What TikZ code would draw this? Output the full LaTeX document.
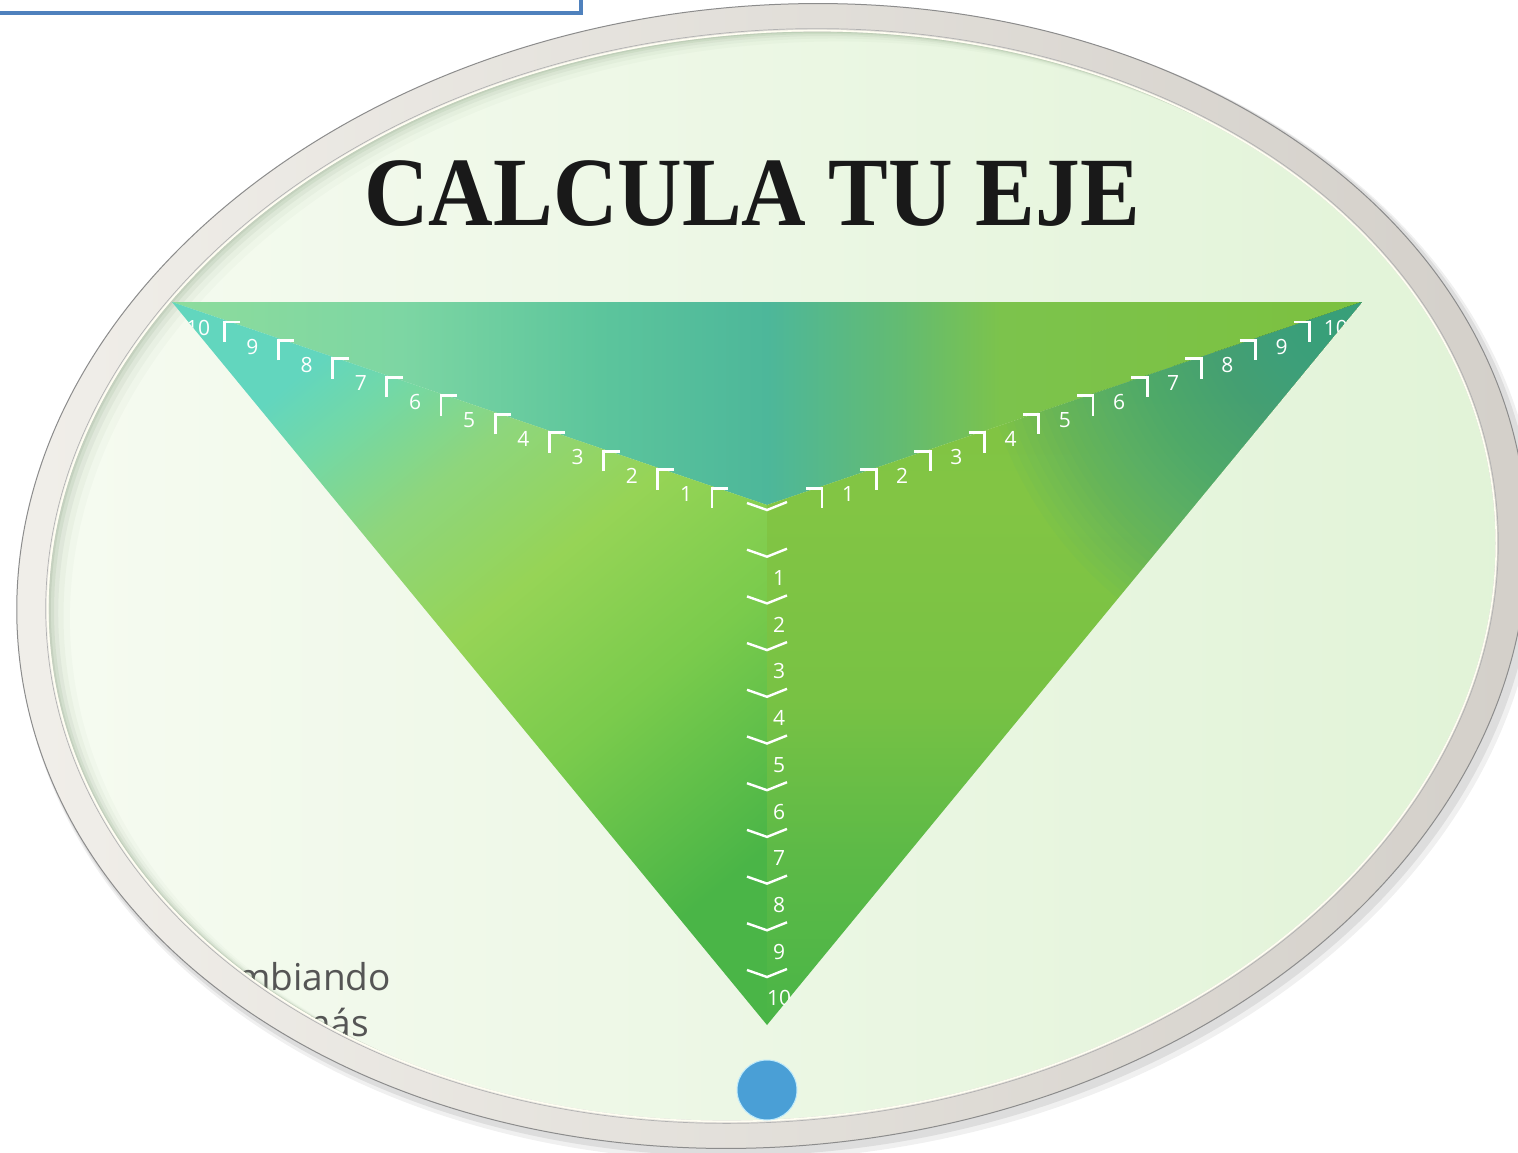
\documentclass[tikz,border=0pt]{standalone}
\usepackage{fontspec}
\setmainfont{Liberation Serif}
\newfontfamily\numfont{Open Sans}
\usetikzlibrary{calc}
\definecolor{rimL}{HTML}{F1EFEA}
\definecolor{rimM}{HTML}{D9D5CF}
\definecolor{rimR}{HTML}{D3CFC9}
\definecolor{inL}{HTML}{F6FBF1}
\definecolor{inR}{HTML}{E1F3D7}
\definecolor{shadowc}{HTML}{7E9778}
\definecolor{dotblue}{HTML}{4A9FD6}
\definecolor{boxblue}{HTML}{4F81BD}
\definecolor{txtgray}{HTML}{555555}
\definecolor{tealC}{HTML}{389F90}
\definecolor{A0}{HTML}{8DDC9C}
\definecolor{A1}{HTML}{7DD6A3}
\definecolor{A2}{HTML}{5CC59C}
\definecolor{A3}{HTML}{4DB79A}
\definecolor{A4}{HTML}{63BB72}
\definecolor{A5}{HTML}{7CC34C}
\definecolor{A6}{HTML}{7CC140}
\definecolor{B0}{HTML}{4AB547}
\definecolor{B1}{HTML}{7ACB4C}
\definecolor{B2}{HTML}{96D456}
\definecolor{B3}{HTML}{8ED67C}
\definecolor{B4}{HTML}{72D8A8}
\definecolor{B5}{HTML}{62D6BE}
\definecolor{C0}{HTML}{4AB547}
\definecolor{C1}{HTML}{5DBA47}
\definecolor{C2}{HTML}{78C244}
\definecolor{C3}{HTML}{82C544}
\definecolor{C4}{HTML}{7FC342}
\pgfdeclarehorizontalshading{regA}{100bp}{color(0bp)=(A0); color(25bp)=(A0); color(34.6bp)=(A1); color(43bp)=(A2); color(50bp)=(A3); color(55.6bp)=(A4); color(59.8bp)=(A5); color(75bp)=(A6); color(100bp)=(A6)}
\pgfdeclareverticalshading{regB}{100bp}{color(0bp)=(B0); color(25bp)=(B0); color(40bp)=(B1); color(52bp)=(B2); color(62bp)=(B3); color(70bp)=(B4); color(75bp)=(B5); color(100bp)=(B5)}
\pgfdeclareverticalshading{regC}{100bp}{color(0bp)=(C0); color(25bp)=(C0); color(37bp)=(C1); color(47.5bp)=(C2); color(61bp)=(C3); color(75bp)=(C4); color(100bp)=(C4)}
\tikzset{
  tickmark/.style={draw=white, line width=2.8pt},
  num/.style={font=\numfont\fontsize{21}{21}\selectfont, text=white, inner sep=0pt},
  plate/.style={rotate around={6:(772,576)}},
}
\begin{document}
\begin{tikzpicture}[x=1pt,y=-1pt]
\useasboundingbox (0,0) rectangle (1518,1153);
\fill[white] (0,0) rectangle (1518,1153);

% plate
\begin{scope}[plate]
  \fill[black, opacity=.08] (776,581) ellipse [x radius=760, y radius=573];
  \fill[black, opacity=.06] (778,584) ellipse [x radius=762, y radius=575];
  \shade[even odd rule, left color=rimL, middle color=rimM, right color=rimR]
    (772,576) ellipse [x radius=757, y radius=570]
    (772,576) ellipse [x radius=725, y radius=542];
  \shade[left color=inL, right color=inR] (772,576) ellipse [x radius=725, y radius=542];
\end{scope}
\begin{scope}
  \clip[plate] (772,576) ellipse [x radius=725, y radius=542];
  \node[anchor=base east, font=\numfont\fontsize{37}{37}\selectfont, text=txtgray, inner sep=0pt] (t1) at (391,990) {cambiando};
  \node[anchor=base east, font=\numfont\fontsize{37}{37}\selectfont, text=txtgray, inner sep=0pt] (t2) at (369,1036) {además};
  \foreach \s/\o in {2/.16, 5/.12, 9/.09, 14/.06, 20/.04}{
    \fill[plate, shadowc, opacity=\o, even odd rule] (-200,-200) rectangle (1800,1400)
      (772+\s,576+0.6*\s) ellipse [x radius=725, y radius=542];
  }
\end{scope}
\begin{scope}[plate]
  \draw[white!95!yellow, line width=1.6pt] (772,576) ellipse [x radius=726, y radius=543];
  \draw[black!30, line width=.7pt] (772,576) ellipse [x radius=728, y radius=545];
  \draw[black!45, line width=1pt] (772,576) ellipse [x radius=757, y radius=570];
\end{scope}

% title
\node[font=\fontsize{98}{98}\selectfont\bfseries, text=black!90, xscale=0.913, anchor=base, inner sep=0pt] (title) at (752,225) {CALCULA TU EJE};

% triangle
\coordinate (pTL) at (172,302);
\coordinate (pTR) at (1362,302);
\coordinate (pV) at (767,505);
\coordinate (pB) at (767,1025);
\shade[shading=regA] (pTL) -- (pTR) -- (pV) -- cycle;
\shade[shading=regB, shading angle=39.5] (pTL) -- (pV) -- (pB) -- cycle;
\shade[shading=regC] (pTR) -- (pV) -- (pB) -- cycle;
\begin{scope}
  \clip (pTR) -- (pV) -- (pB) -- cycle;
  \foreach \r in {8,16,...,390}{
    \fill[tealC, opacity=.045] (pTR) circle [radius=\r];
  }
\end{scope}

\begin{scope}
  \clip (pTL) -- (pTR) -- (pB) -- cycle;
  \foreach \k in {1,...,10}{
    \pgfmathsetmacro\d{55+54.2*(\k-1)}
    \pgfmathsetmacro\yy{507-0.341*\d}
    \draw[tickmark] (767-\d,\yy+20) -- (767-\d,\yy) -- (783-\d,\yy);
    \draw[tickmark] (751+\d,\yy) -- (767+\d,\yy) -- (767+\d,\yy+20);
    \pgfmathsetmacro\dn{81+54.2*(\k-1)}
    \pgfmathsetmacro\yn{522-0.341*\dn}
    \pgfmathsetmacro\ym{578+46.7*(\k-1)}
    \node[num] (L\k) at (767-\dn,\yn) {\k};
    \node[num] (R\k) at (767+\dn,\yn) {\k};
    \node[num] (M\k) at (779,\ym) {\k};
  }
  \foreach \j in {0,...,10}{
    \pgfmathsetmacro\yc{503+46.7*\j}
    \draw[draw=white, line width=2.4pt] (747,\yc) -- (767,\yc+7) -- (787,\yc-1);
  }
\end{scope}

% blue dot
\node[circle, fill=dotblue, draw=cyan!25, line width=1pt, minimum size=60pt, inner sep=0pt] (dot) at (767,1090) {};

% blue box at top left
\draw[boxblue, fill=white, line width=3.5pt] (-10,-10) rectangle (581,13);
\end{tikzpicture}
\end{document}
